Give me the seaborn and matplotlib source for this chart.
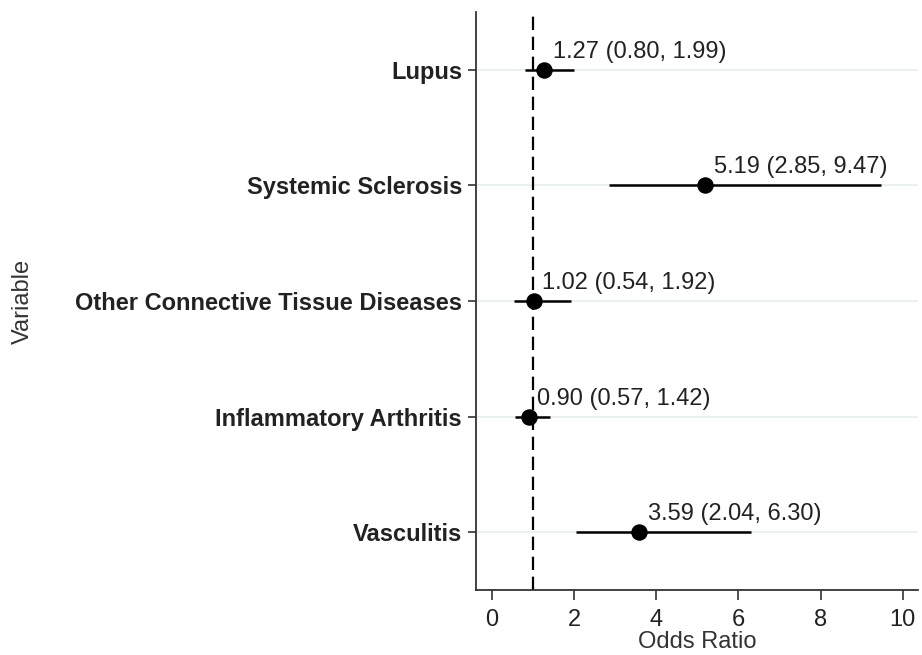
import numpy as np
import pandas as pd
import seaborn as sns
import matplotlib.pyplot as plt

# values
variables = ['Lupus', 'Systemic Sclerosis', 'Other Connective Tissue Diseases',
             'Inflammatory Arthritis', 'Vasculitis']
odds_ratio = [1.27, 5.19, 1.02, 0.90, 3.59]
ci_lower = [0.80, 2.85, 0.54, 0.57, 2.04]
ci_upper = [1.99, 9.47, 1.92, 1.42, 6.30]
x_ticks = [0, 2, 4, 6, 8, 10]

df = pd.DataFrame({'Variable': variables, 'OR': odds_ratio,
                   'Lower': ci_lower, 'Upper': ci_upper})
df['pos'] = np.arange(len(df))

sns.set_theme(style='white')
plt.rcParams['font.family'] = ['Liberation Sans', 'DejaVu Sans']

fig, ax = plt.subplots(figsize=(9.22, 6.55), dpi=100)
fig.subplots_adjust(left=476/922, right=918/922, top=1-12/655, bottom=1-590/655)

# faint horizontal guide lines at each category
for p in df['pos']:
    ax.axhline(p, color='#e6eef0', lw=1.2, zorder=0)

ax.axvline(1, color='black', ls=(0, (6, 3)), lw=1.6, zorder=1)

ax.hlines(df['pos'], df['Lower'], df['Upper'], color='black', lw=1.8, zorder=2)
sns.scatterplot(data=df, x='OR', y='pos', color='black', s=120,
                edgecolor='black', zorder=3, ax=ax, legend=False)

for _, r in df.iterrows():
    ax.annotate(f"{r['OR']:.2f} ({r['Lower']:.2f}, {r['Upper']:.2f})",
                (r['OR'], r['pos']), xytext=(6, 5), textcoords='offset points',
                fontsize=17, color='#222222', va='bottom', ha='left')

ax.set_xlim(-0.39, 10.37)
ax.set_ylim(4.5, -0.5)
ax.set_xticks(x_ticks)
ax.set_yticks(df['pos'])
ax.set_yticklabels(df['Variable'], fontweight='bold')
ax.tick_params(axis='both', labelsize=17, width=1.2, color='#333333',
               left=True, bottom=True, labelcolor='#222222')
ax.tick_params(axis='y', length=6, pad=4)
ax.tick_params(axis='x', length=7, pad=7)

ax.set_xlabel('Odds Ratio', fontsize=17, color='#333333', labelpad=0)
ax.set_ylabel('Variable', fontsize=17, color='#333333')
ax.yaxis.set_label_coords(-1.0, 0.5)

sns.despine(ax=ax)
for s in ['left', 'bottom']:
    ax.spines[s].set_color('#333333')
    ax.spines[s].set_linewidth(1.3)

plt.savefig('out.png', dpi=100)
